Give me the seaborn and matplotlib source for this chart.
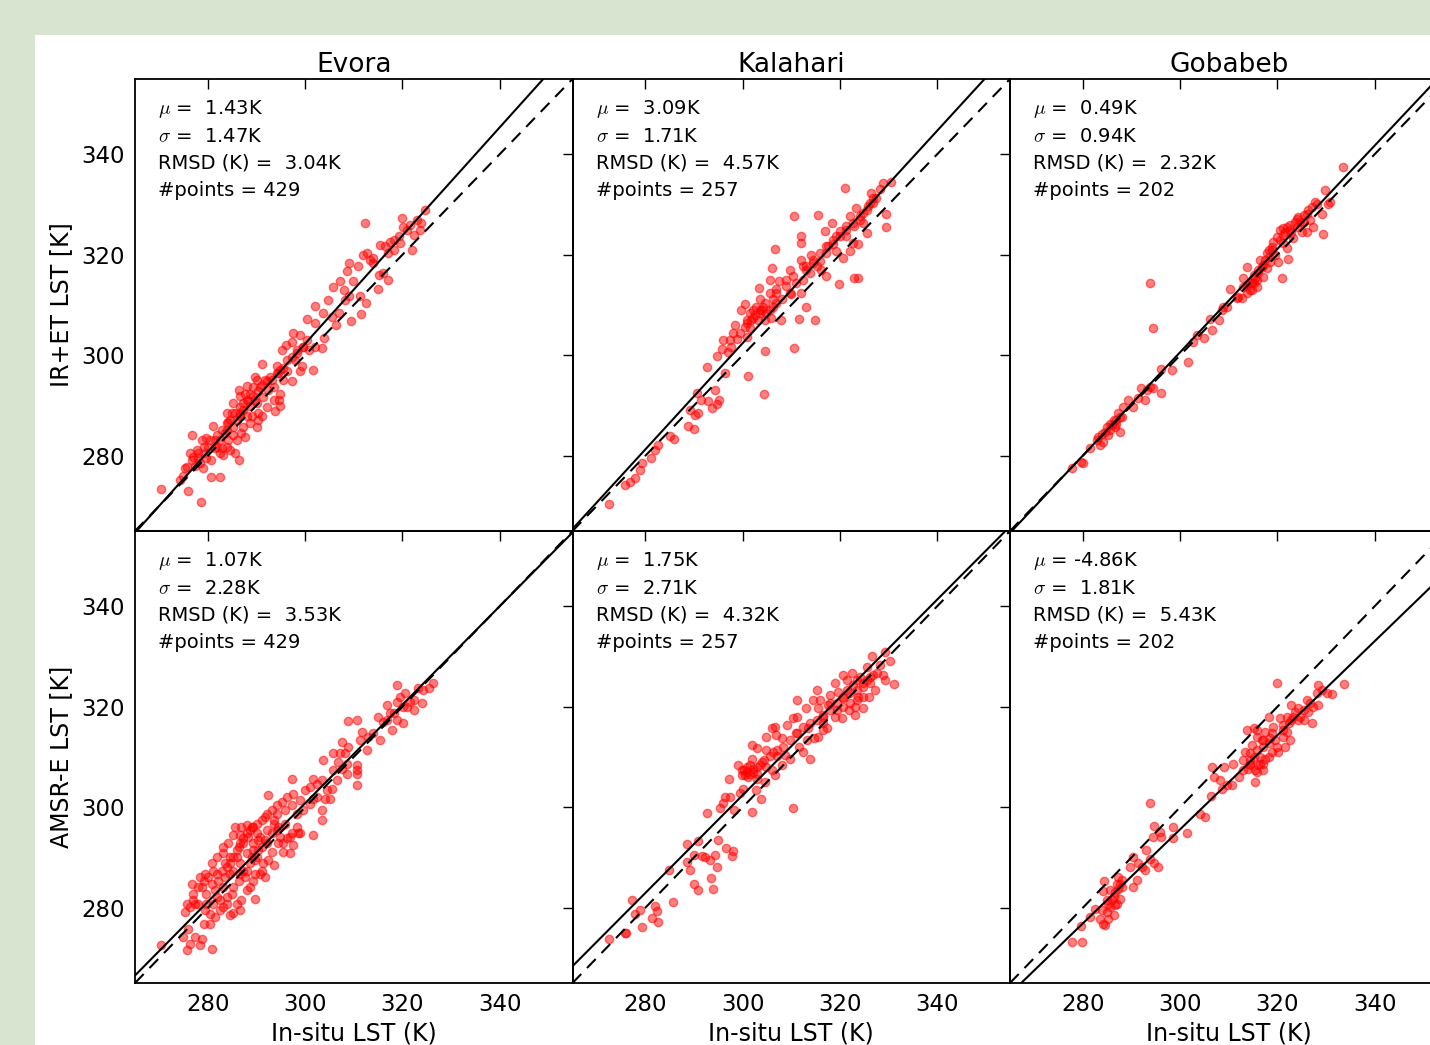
import matplotlib
matplotlib.use("Agg")
import matplotlib.pyplot as plt
import seaborn as sns
import pandas as pd
import numpy as np

# ---------------- data ----------------
sites = ["Evora", "Kalahari", "Gobabeb"]
row_labels = ["IR+ET LST [K]", "AMSR-E LST [K]"]
x_label = "In-situ LST (K)"
ticks = [280, 300, 320, 340]

# statistics text per panel (row 0 = IR+ET, row 1 = AMSR-E)
mu_vals = [[1.43, 3.09, 0.49], [1.07, 1.75, -4.86]]
sigma_vals = [[1.47, 1.71, 0.94], [2.28, 2.71, 1.81]]
rmsd_vals = [[3.04, 4.57, 2.32], [3.53, 4.32, 5.43]]
npoints = [429, 257, 202]

# fitted regression lines (slope, intercept)
fit_slope = [[1.076, 1.057, 1.028], [0.980, 0.973, 0.936]]
fit_intercept = [[-20.5, -14.7, -7.8], [6.8, 10.5, 14.8]]

# Evora, IR+ET
evora_ir_x = [270.3, 276.0, 278.6, 274.3, 275.3, 276.7, 276.8, 276.3, 277.7, 278.7, 279.7, 278.9, 280.6,
              282.4, 280.6, 281.1, 281.8, 283.2, 283.5, 284.5, 286.3, 285.6, 284.9, 285.9, 286.9, 287.6,
              286.6, 288.0, 286.3, 288.7, 289.7, 289.3, 290.0, 290.4, 291.1, 292.1, 291.4, 292.4, 293.8,
              293.5, 294.7, 294.8, 291.2, 294.2, 294.5, 295.5, 295.5, 297.2, 296.2, 295.2, 296.1, 297.2,
              298.3, 299.0, 299.3, 301.7, 297.9, 299.5, 297.4, 298.9, 300.3, 300.7, 302.0, 303.4, 300.3,
              302.0, 303.8, 303.6, 304.6, 302.1, 305.5, 306.3, 307.0, 305.7, 307.2, 307.9, 308.2, 309.1,
              309.4, 308.6, 309.1, 309.9, 310.9, 311.3, 311.4, 312.5, 311.8, 313.4, 314.0, 312.7, 312.4,
              314.9, 315.1, 316.1, 317.1, 315.4, 316.4, 317.1, 317.5, 318.2, 319.3, 319.9, 320.2, 320.9,
              321.6, 321.9, 322.3, 323.0, 323.6, 323.9, 324.7, 319.5, 318.2, 314.0, 282.5, 283.9, 285.2,
              286.6, 287.3, 288.7, 289.7, 290.7, 291.8, 292.8, 284.2, 282.8, 281.5, 280.1, 279.4, 278.0,
              277.3, 274.9, 288.0, 289.0, 290.0, 287.6, 285.2, 284.2,
              275.6, 277.0, 278.0, 279.1, 280.4, 281.8, 282.8, 283.9, 284.5, 285.6, 286.6, 287.3, 288.3,
              289.3, 290.4, 291.1, 292.1, 293.1, 294.2, 294.8, 296.2, 297.2, 298.3, 299.6, 282.5, 283.9,
              285.9, 281.5, 279.7, 278.4, 287.3, 288.7, 290.4, 288.0, 286.6, 285.2, 290.0, 293.5, 294.8,
              283.9]
evora_ir_y = [273.3, 273.0, 270.7, 275.2, 277.5, 279.2, 284.1, 280.6, 281.2, 283.2, 283.5, 277.5, 275.8,
              275.7, 279.2, 286.0, 281.8, 280.2, 284.5, 281.2, 279.2, 280.5, 288.4, 287.1, 284.5, 283.8,
              289.7, 291.0, 293.0, 292.3, 295.6, 293.6, 285.8, 288.4, 287.8, 289.7, 291.7, 293.0, 288.8,
              293.6, 291.0, 292.3, 298.3, 297.8, 296.4, 297.5, 295.1, 294.8, 296.8, 301.1, 302.1, 302.7,
              301.1, 296.8, 297.8, 297.0, 299.1, 301.7, 304.4, 304.1, 303.1, 301.1, 301.7, 301.4, 307.3,
              306.5, 303.4, 308.4, 311.0, 309.9, 307.7, 306.1, 308.4, 313.6, 314.7, 313.0, 311.0, 311.7,
              306.9, 316.7, 318.4, 314.7, 317.7, 311.7, 308.2, 310.4, 320.0, 319.0, 319.3, 320.3, 326.4,
              313.2, 316.0, 316.3, 315.0, 322.0, 321.7, 320.3, 322.6, 323.0, 323.7, 327.3, 325.6, 325.0,
              326.0, 321.0, 324.0, 327.0, 325.0, 326.3, 329.0, 322.3, 321.0, 318.3, 283.2, 285.2, 285.8,
              287.8, 289.1, 289.8, 291.0, 293.6, 295.0, 295.6, 283.2, 281.5, 283.2, 281.8, 280.6, 279.6,
              277.9, 275.9, 287.8, 287.8, 290.4, 292.3, 284.2, 286.8,
              277.8, 279.8, 280.5, 281.8, 283.1, 284.1, 285.1, 286.5, 287.1, 288.5, 288.5, 290.5, 290.8,
              291.8, 292.8, 294.1, 294.8, 295.1, 296.4, 297.1, 299.1, 299.7, 300.4, 301.7, 280.5, 281.8,
              283.1, 281.5, 279.5, 278.5, 285.8, 286.5, 287.1, 293.8, 291.8, 290.5, 295.1, 291.1, 289.8,
              288.5]

# Kalahari, IR+ET
kalahari_ir_x = [272.6, 275.9, 276.8, 277.8, 278.8, 279.4, 281.2, 281.9, 282.6, 285.0, 285.8, 288.8, 289.9,
                 289.1, 290.1, 290.8, 290.6, 291.5, 292.9, 293.6, 294.3, 295.1, 294.8, 292.7, 296.3, 294.7,
                 296.0, 295.8, 297.7, 297.0, 298.8, 298.4, 301.2, 304.3, 300.8, 300.4, 299.7, 301.5, 302.1,
                 302.8, 303.5, 303.2, 303.9, 304.5, 304.7, 305.6, 305.9, 306.3, 305.6, 303.3, 305.7, 306.6,
                 306.1, 307.5, 306.9, 307.8, 308.0, 309.0, 309.7, 310.0, 310.6, 310.9, 311.5, 312.1, 312.4,
                 313.1, 312.1, 312.1, 310.5, 312.1, 313.1, 314.1, 313.8, 314.9, 315.5, 315.2, 315.9, 316.2,
                 317.1, 316.9, 317.6, 318.3, 318.6, 319.3, 319.8, 320.0, 320.7, 321.0, 321.3, 322.0, 322.0,
                 322.7, 322.9, 323.7, 323.4, 323.7, 324.1, 324.8, 325.5, 325.8, 326.5, 326.8, 327.5, 328.2,
                 328.9, 330.6, 329.4, 329.4, 324.8, 322.9, 321.3, 319.3, 317.2, 314.5, 302.1, 300.8, 303.5,
                 304.5,
                 300.8, 301.8, 302.5, 303.5, 304.2, 304.9, 301.5, 300.4, 306.3, 306.9, 309.0, 310.4, 313.1,
                 314.5, 315.9, 317.2, 318.6, 320.0, 321.3, 322.7, 324.1, 325.5, 326.1, 326.8, 298.0, 297.3,
                 299.4, 306.9, 309.7, 312.4]
kalahari_ir_y = [270.3, 274.1, 274.8, 275.6, 277.1, 278.5, 279.6, 281.1, 282.1, 283.9, 283.3, 285.9, 285.4,
                 289.1, 288.1, 288.4, 292.4, 291.1, 290.8, 289.4, 293.1, 291.1, 290.2, 297.7, 296.4, 299.9,
                 303.1, 301.2, 301.7, 300.7, 303.2, 306.1, 295.9, 292.3, 303.7, 310.1, 309.1, 308.4, 307.4,
                 309.7, 308.4, 307.1, 309.1, 307.1, 300.9, 309.1, 307.4, 311.1, 312.4, 313.3, 314.9, 321.2,
                 317.4, 314.7, 312.4, 307.1, 311.1, 313.7, 317.0, 312.1, 301.4, 314.4, 307.2, 312.4, 314.9,
                 309.7, 323.8, 322.4, 327.8, 319.0, 317.7, 320.0, 316.4, 307.1, 328.0, 317.7, 318.7, 317.0,
                 315.7, 324.7, 321.7, 326.4, 322.1, 320.7, 314.1, 324.7, 319.4, 333.3, 323.7, 327.7, 320.7,
                 322.4, 315.4, 315.4, 329.4, 322.2, 327.0, 328.4, 324.4, 329.7, 332.3, 330.4, 331.4, 333.0,
                 334.2, 334.5, 328.2, 325.5, 326.4, 325.7, 325.7, 323.7, 320.4, 318.4, 309.1, 307.1, 311.1,
                 310.4,
                 306.4, 307.1, 308.1, 309.1, 309.7, 308.4, 305.4, 305.7, 309.7, 310.4, 315.0, 315.7, 317.0,
                 319.0, 320.4, 321.7, 323.0, 323.7, 325.0, 326.4, 327.7, 329.0, 330.4, 331.4, 304.4, 303.1,
                 304.4, 313.1, 312.4, 317.7]

# Gobabeb, IR+ET
gobabeb_ir_x = [277.7, 279.7, 280.1, 281.5, 282.8, 283.5, 284.2, 283.9, 284.9, 285.6, 286.3, 286.9, 287.6,
                288.0, 287.3, 288.3, 289.3, 290.4, 291.4, 292.8, 291.9, 293.1, 293.8, 294.5, 296.0, 296.0,
                298.4, 293.7, 294.5, 301.7, 303.4, 302.7, 305.0, 306.6, 306.2, 307.9, 308.6, 309.6, 310.3,
                311.9, 312.7, 313.0, 313.7, 313.0, 313.7, 314.7, 315.1, 315.8, 316.1, 316.4, 317.1, 317.8,
                318.5, 318.8, 319.5, 320.2, 321.0, 322.1, 319.2, 319.9, 320.6, 321.2, 321.9, 322.6, 321.9,
                323.3, 324.0, 324.7, 325.0, 326.0, 326.0, 326.7, 327.4, 328.1, 327.8, 329.1, 329.3, 329.8,
                330.5, 330.8, 333.6, 317.1, 314.4, 311.6, 308.9, 317.8, 321.2, 315.1, 325.4, 285.6, 286.6,
                283.2, 284.5, 285.9, 286.9, 287.6, 285.2, 314.4, 315.4, 316.1, 316.8, 317.5, 318.2, 315.8,
                314.7, 313.7, 318.8, 320.6, 321.6, 322.6, 323.6, 324.3, 325.4, 326.4, 327.1, 321.2, 322.9,
                324.0, 318.2]
gobabeb_ir_y = [277.6, 278.8, 278.6, 281.6, 283.1, 282.1, 282.8, 284.4, 285.8, 285.1, 287.1, 286.4, 284.7,
                287.7, 288.4, 289.7, 291.0, 289.7, 291.4, 291.1, 293.4, 293.0, 293.7, 293.4, 292.5, 297.2,
                297.0, 314.3, 305.5, 298.7, 304.0, 302.7, 303.5, 305.0, 307.3, 307.0, 309.0, 309.6, 313.1,
                311.6, 311.3, 313.6, 312.3, 315.4, 317.6, 314.3, 315.9, 315.0, 317.0, 319.0, 318.0, 317.3,
                318.6, 320.9, 319.9, 318.6, 315.3, 319.1, 322.6, 323.6, 324.9, 323.9, 325.6, 324.9, 321.3,
                323.3, 327.2, 326.6, 324.6, 328.2, 324.6, 326.9, 325.5, 330.2, 330.6, 328.2, 324.1, 332.9,
                330.2, 330.6, 337.4, 315.6, 313.0, 311.3, 309.6, 320.3, 322.3, 314.3, 326.6, 286.4, 285.7,
                283.8, 284.7, 286.1, 287.1, 287.7, 284.1, 314.3, 315.3, 316.3, 317.6, 319.0, 319.6, 313.6,
                313.0, 314.0, 321.6, 322.9, 324.6, 325.9, 326.6, 327.6, 327.9, 328.9, 329.6, 325.3, 324.3,
                325.6, 320.9]

# Evora, AMSR-E
evora_mw_x = [270.3, 275.6, 276.3, 278.4, 280.8, 274.9, 277.3, 278.7, 276.0, 279.1, 280.4, 275.3, 276.3,
              277.0, 276.7, 278.7, 278.0, 279.7, 280.4, 279.4, 281.1, 282.1, 281.5, 283.2, 282.5, 284.6,
              285.2, 283.9, 284.9, 285.9, 286.9, 286.6, 289.7, 288.0, 288.7, 286.3, 284.6, 283.5, 284.6,
              283.2, 285.1, 286.6, 286.3, 287.3, 288.0, 289.0, 288.3, 290.0, 290.4, 289.3, 289.7, 291.1,
              290.7, 291.4, 292.4, 293.5, 293.1, 292.1, 291.8, 292.4, 293.5, 294.2, 294.5, 295.5, 296.9,
              297.6, 296.2, 297.2, 298.6, 298.9, 301.7, 294.2, 295.9, 297.2, 298.3, 297.2, 298.9, 300.0,
              301.0, 301.7, 302.4, 303.4, 301.7, 303.4, 303.4, 304.1, 305.1, 305.5, 303.6, 305.7, 306.8,
              307.5, 305.8, 308.6, 308.2, 308.9, 307.5, 310.6, 310.6, 310.6, 310.6, 308.9, 310.6, 311.6,
              311.3, 313.0, 312.7, 315.4, 314.9, 316.1, 316.8, 317.5, 317.8, 318.8, 320.2, 318.8, 319.5,
              320.6, 320.9, 321.6, 322.3, 318.8, 323.3, 324.0, 325.4, 287.3, 288.7, 290.0, 285.9, 281.8,
              279.7, 287.6, 289.3, 291.1, 294.8,
              275.6, 277.0, 278.0, 279.1, 280.1, 280.8, 281.8, 282.8, 283.9, 283.5, 284.6, 285.2, 285.9,
              286.6, 287.3, 288.0, 288.7, 289.3, 290.0, 291.1, 292.1, 293.1, 294.2, 295.2, 296.2, 297.6,
              281.1, 282.5, 283.9, 285.2, 286.6, 288.0, 289.0, 290.4, 291.8, 293.1, 294.5, 295.9, 285.2,
              286.6, 288.0, 289.3, 290.7, 292.1, 293.5, 283.2, 284.2, 285.6, 286.9, 281.8, 280.8, 278.4,
              277.3, 279.4, 281.5, 283.2, 289.7, 291.8, 295.5, 296.9, 298.3, 299.6, 301.0, 302.4, 304.4,
              306.5, 308.6, 307.2, 314.0, 316.8, 318.2, 320.2, 322.3, 324.3, 326.4]
evora_mw_y = [272.5, 271.5, 272.8, 272.5, 271.8, 274.2, 274.2, 273.8, 275.8, 276.8, 276.8, 279.1, 280.1,
              281.5, 284.8, 284.1, 280.8, 280.8, 278.8, 286.8, 287.4, 285.4, 283.5, 284.1, 281.5, 278.5,
              278.9, 280.8, 282.8, 280.8, 281.5, 279.5, 281.8, 283.5, 284.1, 285.4, 286.8, 288.8, 290.1,
              290.8, 294.4, 294.4, 292.1, 292.8, 296.4, 296.1, 294.1, 294.8, 293.4, 291.4, 289.4, 287.4,
              286.8, 288.8, 289.4, 288.4, 291.1, 292.8, 298.1, 302.4, 296.7, 295.4, 292.8, 291.1, 290.8,
              292.4, 293.8, 294.8, 294.8, 294.8, 294.4, 298.7, 299.4, 300.4, 298.7, 305.7, 301.4, 303.4,
              304.1, 305.7, 304.7, 305.4, 301.7, 299.4, 297.4, 301.7, 301.7, 303.7, 309.4, 310.7, 309.0,
              307.7, 307.4, 308.7, 310.7, 312.0, 313.0, 308.4, 307.4, 304.4, 306.7, 317.1, 317.3, 315.0,
              313.4, 314.0, 311.4, 313.4, 318.0, 317.0, 320.3, 318.7, 315.3, 317.3, 316.7, 321.0, 322.0,
              322.7, 320.0, 321.0, 319.3, 324.3, 323.7, 320.7, 323.7, 287.4, 288.8, 290.1, 290.1, 282.2,
              282.8, 286.1, 285.4, 292.1, 294.1,
              280.8, 282.8, 284.1, 285.4, 286.1, 284.8, 286.8, 287.4, 288.1, 286.1, 288.8, 290.1, 291.4,
              292.8, 293.8, 294.8, 295.4, 296.1, 296.7, 297.4, 298.7, 299.4, 300.4, 301.1, 302.1, 302.7,
              280.8, 279.5, 282.1, 284.1, 286.8, 287.4, 290.1, 291.4, 293.4, 294.8, 296.1, 296.7, 287.4,
              288.8, 290.8, 292.8, 294.1, 295.4, 297.4, 292.1, 292.8, 296.1, 296.1, 290.1, 288.8, 286.1,
              280.8, 279.5, 278.1, 280.1, 286.8, 286.1, 292.8, 294.1, 296.1, 299.4, 300.7, 302.1, 303.4,
              305.4, 306.7, 310.7, 314.7, 317.3, 318.7, 320.0, 321.3, 323.3, 324.7]

# Kalahari, AMSR-E
kalahari_mw_x = [272.5, 275.8, 276.1, 277.2, 277.9, 278.8, 279.2, 281.3, 282.0, 282.5, 282.3, 284.9, 285.7,
                 288.5, 288.5, 289.2, 289.9, 290.9, 289.9, 290.8, 291.6, 292.3, 293.3, 294.3, 293.4, 293.8,
                 295.0, 294.7, 296.5, 298.1, 297.9, 292.7, 295.3, 296.0, 296.4, 297.3, 298.3, 297.1, 299.5,
                 300.1, 301.9, 303.7, 302.8, 299.1, 299.8, 300.5, 301.5, 302.2, 302.9, 303.6, 301.9, 304.3,
                 304.9, 304.6, 306.7, 306.0, 301.9, 302.9, 304.9, 306.3, 307.0, 308.0, 308.7, 309.8, 310.3,
                 304.9, 306.0, 306.9, 306.7, 308.0, 309.1, 310.4, 311.1, 311.0, 311.1, 311.5, 312.5, 313.9,
                 313.0, 313.5, 314.6, 314.4, 315.2, 315.9, 315.6, 315.6, 316.6, 317.3, 316.6, 317.6, 318.0,
                 319.0, 319.7, 319.4, 319.0, 320.4, 320.7, 321.4, 321.8, 321.4, 322.4, 323.1, 323.1, 322.8,
                 323.8, 324.2, 324.8, 324.8, 325.5, 325.5, 325.9, 326.2, 326.6, 327.2, 326.9, 328.3, 328.8,
                 329.3, 329.3, 330.3, 331.1, 323.5, 320.7, 318.0, 302.9, 300.8,
                 300.2, 300.8, 301.5, 302.2, 301.2, 299.8, 302.9, 303.9, 305.6, 307.0, 308.4, 309.8, 311.1,
                 312.5, 313.9, 315.2, 316.6, 318.0, 319.4, 320.7, 322.1, 323.5, 324.8, 326.2, 327.6, 320.7,
                 322.1, 323.5, 324.8, 316.6, 313.2]
kalahari_mw_y = [273.7, 275.0, 274.9, 281.5, 278.7, 279.5, 276.2, 278.0, 280.3, 277.2, 279.4, 287.5, 281.2,
                 292.7, 289.1, 287.5, 284.8, 283.6, 290.5, 293.3, 290.3, 290.1, 289.5, 290.5, 286.0, 283.8,
                 293.4, 288.1, 291.8, 291.3, 290.3, 298.8, 299.8, 300.8, 302.1, 302.1, 299.4, 305.7, 302.8,
                 303.7, 299.0, 301.6, 303.4, 308.4, 307.4, 306.4, 306.7, 307.7, 305.7, 308.4, 309.7, 309.4,
                 308.1, 305.1, 306.4, 307.4, 312.4, 311.7, 311.4, 311.0, 310.1, 308.4, 310.4, 309.7, 299.8,
                 314.0, 315.7, 314.4, 316.0, 313.7, 316.4, 317.7, 318.0, 314.7, 321.3, 312.0, 311.0, 309.7,
                 319.7, 315.7, 313.7, 321.3, 323.3, 321.3, 319.7, 314.0, 315.4, 315.7, 318.4, 320.3, 322.3,
                 324.7, 323.0, 319.3, 318.0, 317.7, 326.3, 323.3, 319.3, 325.3, 326.7, 318.4, 320.0, 324.3,
                 322.0, 326.0, 319.7, 324.0, 328.0, 325.3, 322.0, 324.7, 330.2, 323.3, 326.3, 328.3, 326.3,
                 325.3, 331.0, 329.2, 324.5, 325.3, 321.7, 320.7, 306.7, 307.1,
                 307.4, 308.1, 308.4, 307.1, 306.1, 306.4, 308.1, 309.1, 310.1, 311.4, 312.0, 313.4, 314.7,
                 316.0, 316.7, 317.4, 318.0, 319.4, 320.7, 322.0, 322.7, 323.3, 324.7, 326.0, 326.7, 320.0,
                 320.7, 321.3, 322.0, 316.7, 313.4]

# Gobabeb, AMSR-E
gobabeb_mw_x = [277.7, 279.9, 279.6, 281.5, 282.5, 283.5, 284.2, 284.5, 283.9, 284.9, 284.1, 284.4, 285.2,
                285.9, 285.6, 286.3, 286.6, 287.0, 287.3, 287.6, 288.0, 288.0, 289.7, 290.2, 290.4, 291.2,
                291.4, 292.1, 292.8, 293.0, 293.8, 294.7, 295.4, 293.7, 294.6, 294.5, 295.9, 296.1, 298.5,
                298.5, 301.5, 304.1, 305.1, 306.3, 306.5, 306.9, 308.2, 308.6, 309.0, 309.6, 310.6, 310.9,
                312.2, 312.9, 313.4, 313.7, 314.0, 314.4, 314.7, 315.2, 315.4, 315.8, 316.1, 316.4, 316.8,
                317.1, 317.5, 318.2, 318.5, 318.8, 319.2, 319.5, 319.9, 320.2, 320.6, 321.2, 321.5, 321.9,
                322.5, 322.9, 322.9, 323.6, 324.3, 325.4, 326.0, 326.4, 327.1, 327.4, 328.4, 328.1, 328.3,
                329.1, 330.2, 331.2, 333.8, 317.1, 315.8, 314.4, 313.0, 324.7, 321.2, 318.2,
                284.9, 285.6, 286.6, 287.3, 287.0, 286.3, 285.2, 287.6, 314.4, 315.1, 315.8, 316.4, 317.1,
                314.4, 315.4, 317.5, 318.2, 318.8, 321.2, 322.3, 323.3, 324.3, 325.4, 326.7, 317.1, 315.8,
                319.9, 321.9]
gobabeb_mw_y = [273.2, 273.2, 276.3, 278.2, 279.8, 277.8, 276.8, 276.5, 279.5, 279.2, 283.3, 285.3, 280.8,
                281.5, 283.5, 282.2, 280.5, 284.8, 286.1, 281.8, 284.1, 285.5, 288.1, 284.1, 290.1, 285.6,
                288.8, 288.1, 287.5, 291.4, 289.6, 288.8, 288.0, 300.9, 296.3, 294.1, 295.1, 294.1, 296.0,
                293.8, 294.9, 298.7, 298.0, 302.2, 308.1, 306.1, 305.4, 303.7, 308.1, 304.4, 304.4, 308.7,
                306.1, 309.4, 311.0, 315.4, 307.7, 309.4, 312.4, 315.7, 305.1, 307.1, 308.4, 310.0, 313.4,
                308.7, 315.0, 318.0, 313.7, 311.0, 316.0, 313.4, 324.7, 311.0, 317.7, 316.4, 311.9, 315.0,
                313.4, 317.4, 320.3, 319.0, 319.7, 317.3, 321.3, 319.0, 316.7, 320.0, 320.3, 322.7, 324.3,
                323.3, 322.7, 322.5, 324.5, 312.0, 314.0, 308.4, 307.4, 318.0, 314.0, 310.0,
                281.5, 280.2, 283.2, 283.8, 280.8, 278.5, 277.8, 284.8, 308.7, 310.0, 311.4, 308.7, 307.4,
                310.7, 307.4, 309.7, 312.7, 314.7, 315.4, 316.7, 318.0, 317.3, 319.3, 320.7, 313.4, 315.4,
                312.0, 318.0]

points = [
    [(evora_ir_x, evora_ir_y), (kalahari_ir_x, kalahari_ir_y), (gobabeb_ir_x, gobabeb_ir_y)],
    [(evora_mw_x, evora_mw_y), (kalahari_mw_x, kalahari_mw_y), (gobabeb_mw_x, gobabeb_mw_y)],
]

# ---------------- figure ----------------
sns.set_style("white")
plt.rcParams["font.family"] = ["DejaVu Sans"]
plt.rcParams["mathtext.fontset"] = "cm"
plt.rcParams["text.color"] = "black"
plt.rcParams["axes.labelcolor"] = "black"
plt.rcParams["axes.titlecolor"] = "black"

W, H = 1430, 1045
fig = plt.figure(figsize=(W / 100, H / 100), dpi=100, facecolor="#d8e3d0")
# white page
fig.patches.append(plt.Rectangle((35 / W, 0), 1 - 35 / W, 1 - 35 / H,
                                 transform=fig.transFigure, facecolor="white",
                                 edgecolor="none", zorder=-10))

left0 = 135 / W
aw = 437.5 / W
ah = 452 / H
bottoms = [1 - 531 / H, 1 - 983 / H]

lim = (265, 355)
line_x = np.array(lim, dtype=float)

for r in range(2):
    for c in range(3):
        ax = fig.add_axes([left0 + c * aw, bottoms[r], aw, ah])
        ax.set_facecolor("none")
        xs, ys = points[r][c]
        df = pd.DataFrame({"insitu": xs, "sat": ys})
        sns.scatterplot(data=df, x="insitu", y="sat", ax=ax, color="red",
                        edgecolor="red", linewidth=1.0, alpha=0.5, s=36, zorder=3)
        sns.lineplot(x=line_x, y=line_x, ax=ax, color="black", lw=1.5, zorder=4)
        ax.lines[-1].set_dashes((6, 4))
        sns.lineplot(x=line_x, y=fit_slope[r][c] * line_x + fit_intercept[r][c],
                     ax=ax, color="black", lw=1.5, zorder=4)
        ax.set_xlim(lim)
        ax.set_ylim(lim)
        ax.set_xticks(ticks)
        ax.set_yticks(ticks)
        ax.tick_params(direction="in", length=7, width=1, top=True, right=True,
                       labelsize=16.5, pad=7, colors="black")
        for sp in ax.spines.values():
            sp.set_linewidth(1.3)
            sp.set_color("black")
        if c != 0:
            ax.set_yticklabels([])
            ax.set_ylabel("")
        else:
            ax.set_ylabel(row_labels[r], fontsize=17, labelpad=6)
        if r != 1:
            ax.set_xticklabels([])
            ax.set_xlabel("")
        else:
            ax.set_xlabel(x_label, fontsize=17, labelpad=4)
        if r == 0:
            ax.set_title(sites[c], fontsize=19, pad=5)
        txt = [r"$\mu$ = {:5.2f}K".format(mu_vals[r][c]),
               r"$\sigma$ = {:5.2f}K".format(sigma_vals[r][c]),
               "RMSD (K) = {:5.2f}K".format(rmsd_vals[r][c]),
               "#points = {}".format(npoints[c])]
        for i, t in enumerate(txt):
            ax.text(23 / 437.5, 1 - (30 + 27 * i) / 452, t, transform=ax.transAxes,
                    fontsize=14, va="center", ha="left", color="black")

fig.savefig("out.png", dpi=100, facecolor=fig.get_facecolor())
